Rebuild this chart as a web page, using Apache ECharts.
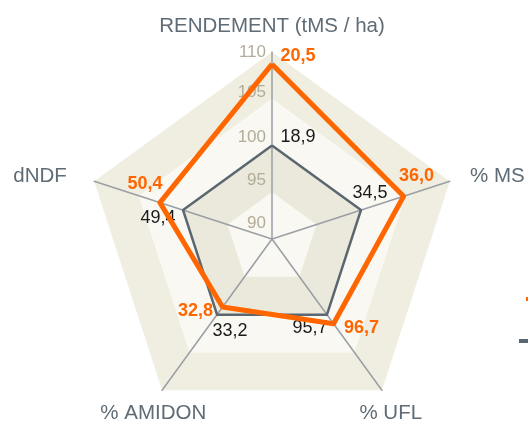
<!DOCTYPE html>
<html>
<head>
<meta charset="utf-8">
<script src="https://cdn.jsdelivr.net/npm/echarts@6/dist/echarts.min.js"></script>
<style>
    html, body { margin: 0; padding: 0; background: #fff; }
    #main { width: 528px; height: 421px; }
</style>
</head>
<body>
<div id="main"></div>
<script>
// axes, counter-clockwise from the top (echarts order)
var indicators = ['RENDEMENT (tMS / ha)', 'dNDF', '% AMIDON', '% UFL', '% MS'];
var ticks = [90, 95, 100, 105, 110];

// index values (scale 90-110) and the printed values
var orangeIndex = [108.7, 102.6, 99.0, 101.2, 104.8];
var orangeLabels = ['20,5', '50,4', '32,8', '96,7', '36,0'];
var greyIndex = [100, 100, 100, 100, 100];
var greyLabels = ['18,9', '49,4', '33,2', '95,7', '34,5'];

var ORANGE = '#ff6600';
var GREY = '#5b6770';

// label shift from the vertex, [dx, dy]
var orangeShift = [[26, -8], [-15, -19], [-27, 4], [28, 4], [13, -20]];
var greyShift = [[26, -8], [-25, 8], [13, 16], [-17, 13], [9, -17]];
// tick label lift
var tickLift = {90: 16, 95: 12, 100: 8, 105: 6, 110: 0};

var shiftRich = function (shift) {
    var rich = {};
    shift.forEach(function (s, i) {
        rich['d' + i] = {
            padding: [Math.max(0, 2 * s[1]), Math.max(0, -2 * s[0]),
                Math.max(0, -2 * s[1]), Math.max(0, 2 * s[0])]
        };
    });
    return rich;
};

var tickRich = {};
ticks.forEach(function (t) {
    tickRich['t' + t] = {padding: [0, 0, 2 * tickLift[t], 0]};
});

var box = echarts.init(document.getElementById('main'));
var option = {
    animation: false,
    textStyle: {fontFamily: 'Liberation Sans, Arial, sans-serif'},
    legend: [{
        data: ['Série 1'],
        left: 521,
        top: 287,
        icon: 'rect',
        itemWidth: 25,
        itemHeight: 4,
        textStyle: {fontSize: 14}
    }, {
        data: ['Série 2'],
        left: 514,
        top: 329,
        icon: 'rect',
        itemWidth: 25,
        itemHeight: 4,
        textStyle: {fontSize: 14}
    }],
    radar: {
        center: [272, 239],
        radius: 187,
        startAngle: 90,
        splitNumber: 4,
        shape: 'polygon',
        nameGap: 15,
        axisName: {
            color: '#5f6c76',
            fontSize: 20.5
        },
        indicator: indicators.map(function (name, i) {
            var ind = {name: name, min: 90, max: 110};
            if (i === 0) {
                ind.axisLabel = {
                    show: true,
                    color: '#b2ad98',
                    fontSize: 17,
                    margin: 6,
                    formatter: function (v) {
                        return '{t' + v + '|' + v + '}';
                    },
                    rich: tickRich
                };
            }
            if (i === 1) {
                ind.nameTextStyle = {padding: [0, 13, 0, 0]};
            }
            if (i === 4) {
                ind.nameTextStyle = {padding: [0, 0, 0, 6]};
            }
            if (i === 2 || i === 3) {
                ind.nameTextStyle = {align: 'center', verticalAlign: 'top'};
            }
            return ind;
        }),
        axisLine: {lineStyle: {color: '#9a9fa4', width: 1.5}},
        axisTick: {show: false},
        axisLabel: {show: false},
        splitLine: {show: false},
        splitArea: {
            show: true,
            areaStyle: {color: ['#f9f8f3', '#ebe9db', '#f9f8f3', '#f0eee1']}
        }
    },
    series: [{
        name: 'Série 2',
        type: 'radar',
        z: 2,
        symbol: 'circle',
        symbolSize: 1,
        color: GREY,
        lineStyle: {color: GREY, width: 2.5},
        itemStyle: {color: GREY},
        label: {
            show: true,
            position: 'inside',
            color: '#1a1a1a',
            fontSize: 18,
            formatter: function (p) {
                return '{d' + p.dimensionIndex + '|' + greyLabels[p.dimensionIndex] + '}';
            },
            rich: shiftRich(greyShift)
        },
        data: [{value: greyIndex, name: 'Série 2'}]
    }, {
        name: 'Série 1',
        type: 'radar',
        z: 3,
        symbol: 'circle',
        symbolSize: 1,
        color: ORANGE,
        lineStyle: {color: ORANGE, width: 5},
        itemStyle: {color: ORANGE},
        label: {
            show: true,
            position: 'inside',
            color: ORANGE,
            fontSize: 18,
            fontWeight: 'bold',
            formatter: function (p) {
                return '{d' + p.dimensionIndex + '|' + orangeLabels[p.dimensionIndex] + '}';
            },
            rich: shiftRich(orangeShift)
        },
        data: [{value: orangeIndex, name: 'Série 1'}]
    }]
};
box.setOption(option);
</script>
</body>
</html>
